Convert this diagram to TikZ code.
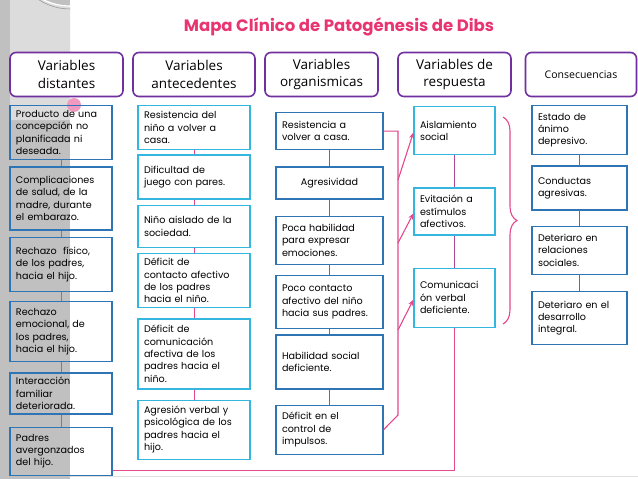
\documentclass[tikz,border=0pt]{standalone}
\usepackage{fontspec}
\setmainfont{Poppins}
\newfontfamily\hdrfamily{Open Sans}
\definecolor{boxblue}{RGB}{46, 117, 182}
\definecolor{boxcyan}{RGB}{52, 182, 222}
\definecolor{hdrpurple}{RGB}{112, 48, 160}
\definecolor{titlepink}{RGB}{232, 52, 112}
\definecolor{lnkpink}{RGB}{228, 72, 142}
\definecolor{lnkviolet}{RGB}{172, 72, 152}
\definecolor{stripgray}{RGB}{192, 192, 192}
\usetikzlibrary{arrows.meta, positioning, decorations.pathreplacing}
\newcommand{\boxtxt}{\fontsize{9.6}{12.4}\selectfont}

\begin{document}
\begin{tikzpicture}[x=1pt, y=-1pt,
      node distance=6pt,
      hdr/.style={draw=hdrpurple, line width=1.6pt, rounded corners=6pt, fill=white, align=center, minimum height=44pt,
        font=\hdrfamily\fontsize{13.5}{17.5}\selectfont},
      item/.style={line width=1.3pt, align=left, inner xsep=6pt, inner ysep=3pt, font=\boxtxt, anchor=north},
      distbox/.style={item, draw=boxblue, text width=90pt},
      antbox/.style={item, draw=boxcyan, text width=100pt},
      orgbox/.style={item, draw=boxblue, text width=95pt},
      respbox/.style={item, draw=boxcyan, text width=69pt},
      consbox/.style={item, draw=boxblue, text width=83pt},
      lnk/.style={lnkviolet, line width=0.8pt},
      lnkp/.style={lnkpink, line width=1.1pt},
      arr/.style={lnkp, -{Stealth[length=6pt, width=5pt]}},
    ]
      \useasboundingbox (0,0) rectangle (638,479);
      \fill[white] (0,0) rectangle (638,479);
      \fill[stripgray] (0,0) rectangle (70,479);
      \begin{scope}
        \clip (0,0) rectangle (70,120);
        \fill[stripgray!55!white] (70,6) arc[start angle=90, end angle=180, radius=60] -- (10,120) -- (70,120) -- cycle;
        \draw[white, line width=1.2pt] (70,6) arc[start angle=90, end angle=180, radius=60];
        \draw[gray!80, line width=0.6pt] (70,9) arc[start angle=90, end angle=180, radius=57];
      \end{scope}
      \draw[gray!25, line width=0.6pt] (70,476) -- (638,476);
      \fill[lnkpink!55] (74,105) circle (7);

      \node[font=\bfseries\fontsize{16.5}{20}\selectfont, text=titlepink] (title) at (339,27) {Mapa Clínico de Patogénesis de Dibs};

      \node[hdr, minimum width=113pt] (h1) at (66.5,74.5) {Variables\\distantes};
      \node[hdr, minimum width=122pt] (h2) at (194,74.5) {Variables\\antecedentes};
      \node[hdr, minimum width=113pt] (h3) at (321.5,74.5) {Variables\\organismicas};
      \node[hdr, minimum width=113pt] (h4) at (454.5,74.5) {Variables de\\respuesta};
      \node[hdr, minimum width=111pt, font=\hdrfamily\fontsize{10.5}{13}\selectfont] (h5) at (581,74.5) {Consecuencias};

      \node[distbox, minimum height=54pt] (F1) at (61,105) {Producto de una\\concepción no\\planificada ni\\deseada.};
      \node[distbox, minimum height=63pt, below=6pt of F1] (F2) {Complicaciones\\de salud, de la\\madre, durante\\el embarazo.};
      \node[distbox, minimum height=54pt, below=6pt of F2] (F3) {Rechazo~ físico,\\de los padres,\\hacia el hijo.};
      \node[distbox, minimum height=60pt, below=9pt of F3] (F4) {Rechazo\\emocional, de\\los padres,\\hacia el hijo.};
      \node[distbox, minimum height=41pt, below=10pt of F4] (F5) {Interacción\\familiar\\deteriorada.};
      \node[distbox, minimum height=48pt, below=12pt of F5] (F6) {Padres\\avergonzados\\del hijo.};

      \node[antbox, minimum height=44pt] (A1) at (194,105) {Resistencia del\\niño a volver a\\casa.};
      \node[antbox, minimum height=44pt, below=4pt of A1] (A2) {Dificultad de\\juego con pares.};
      \node[antbox, minimum height=42pt, below=5pt of A2] (A3) {Niño aislado de la\\sociedad.};
      \node[antbox, minimum height=54pt, below=5pt of A3] (A4) {Déficit de\\contacto afectivo\\de los padres\\hacia el niño.};
      \node[antbox, minimum height=70pt, below=10pt of A4] (A5) {Déficit de\\comunicación\\afectiva de los\\padres hacia el\\niño.};
      \node[antbox, minimum height=59pt, below=10pt of A5] (A6) {Agresión verbal y\\psicológica de los\\padres hacia el\\hijo.};

      \node[orgbox, minimum height=37pt] (O1) at (329.5,112) {Resistencia a\\volver a casa.};
      \node[orgbox, minimum height=32pt, below=16pt of O1, align=center] (O2) {Agresividad};
      \node[orgbox, minimum height=48pt, below=16pt of O2] (O3) {Poca habilidad\\para expresar\\emociones.};
      \node[orgbox, minimum height=53pt, below=10pt of O3] (O4) {Poco contacto\\afectivo del niño\\hacia sus padres.};
      \node[orgbox, minimum height=54pt, below=5pt of O4] (O5) {Habilidad social\\deficiente.};
      \node[orgbox, minimum height=49pt, below=15pt of O5] (O6) {Déficit en el\\control de\\impulsos.};

      \node[respbox, minimum height=48pt] (R1) at (454.5,106) {Aislamiento\\social};
      \node[respbox, minimum height=47pt, below=32pt of R1] (R2) {Evitación a\\estímulos\\afectivos.};
      \node[respbox, minimum height=59pt, below=32pt of R2] (R3) {Comunicaci\\ón verbal\\deficiente.};

      \node[consbox, minimum height=49pt] (K1) at (579.5,105) {Estado de\\ánimo\\depresivo.};
      \node[consbox, minimum height=44pt, below=10pt of K1] (K2) {Conductas\\agresivas.};
      \node[consbox, minimum height=48pt, below=15pt of K2] (K3) {Deteriaro en\\relaciones\\sociales.};
      \node[consbox, minimum height=53pt, below=16pt of K3] (K4) {Deteriaro en el\\desarrollo\\integral.};

      \foreach \a/\b in {F1/F2, F2/F3, F3/F4, F4/F5, F5/F6, A1/A2, A2/A3, A3/A4, A4/A5, A5/A6}
        \draw[lnkp, line width=0.8pt] (\a.south) -- (\b.north);
      \foreach \a/\b in {O1/O2, O2/O3, O3/O4, O4/O5, O5/O6, R1/R2, R2/R3, K1/K2, K2/K3, K3/K4}
        \draw[lnk] (\a.south) -- (\b.north);

      \coordinate (sp) at (398,415);
      \coordinate (s1) at (398,180);
      \coordinate (s2) at (398,243);
      \coordinate (s3) at (398,330);
      \draw[lnkp] (O1.east) -| (sp) -- (O6.east);
      \draw[arr] (s1) -- ([yshift=-2pt]R1.west);
      \draw[arr] (s2) -- ([yshift=-2pt]R2.west);
      \draw[arr] (s3) -- ([yshift=-2pt]R3.west);

      \draw[lnkp] ([yshift=5pt]F6.south east) -| (R3.south);

      \draw[lnkp, decorate, decoration={brace, amplitude=14pt}] (503,117) -- (503,324);
    \end{tikzpicture}
\end{document}
